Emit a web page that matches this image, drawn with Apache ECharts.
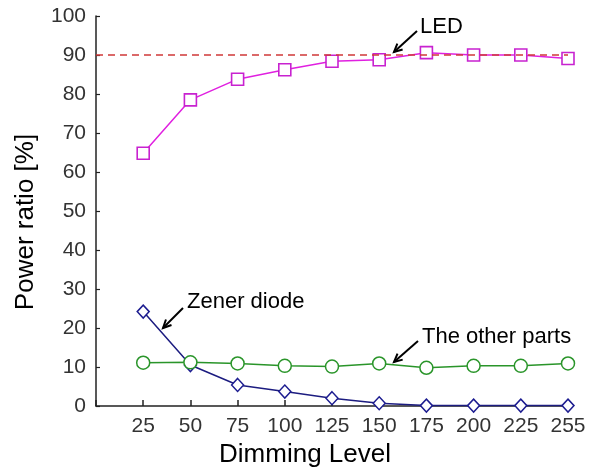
<!DOCTYPE html>
<html>
<head>
<meta charset="utf-8">
<script src="https://cdn.jsdelivr.net/npm/echarts@6/dist/echarts.min.js"></script>
<style>html,body{margin:0;padding:0;background:#fff}#c{width:596px;height:468px}</style>
</head>
<body>
<div id="c"></div>
<script>
const categories = ['', '25', '50', '75', '100', '125', '150', '175', '200', '225', '255'];
const ledValues = [null, 64.8, 78.5, 83.8, 86.2, 88.4, 88.8, 90.6, 90.0, 90.0, 89.1];
const zenerValues = [null, 24.2, 10.5, 5.4, 3.7, 2.0, 0.7, 0.1, 0.1, 0.1, 0.1];
const otherValues = [null, 11.1, 11.2, 10.9, 10.3, 10.1, 10.9, 9.8, 10.3, 10.3, 10.9];
const targetLine = 90;

const font = 'Liberation Sans, Arial, sans-serif';
const chart = echarts.init(document.getElementById('c'), null, {renderer: 'canvas'});

function arrow(x1, y1, x2, y2) {
  const ang = Math.atan2(y2 - y1, x2 - x1);
  const L = 9, a = 0.45;
  const p1 = [x2 - L * Math.cos(ang - a), y2 - L * Math.sin(ang - a)];
  const p2 = [x2 - L * Math.cos(ang + a), y2 - L * Math.sin(ang + a)];
  return [
    {type: 'line', shape: {x1, y1, x2, y2}, style: {stroke: '#000', lineWidth: 2}},
    {type: 'polyline', shape: {points: [p1, [x2, y2], p2]}, style: {stroke: '#000', lineWidth: 2, fill: null}}
  ];
}
function label(text, x, y) {
  return {type: 'text', x, y, style: {text, font: '22px ' + font, fill: '#000', textVerticalAlign: 'middle'}};
}

chart.setOption({
  animation: false,
  backgroundColor: '#fff',
  grid: {left: 96, right: 28, top: 16, bottom: 62, containLabel: false, outerBoundsMode: 'none'},
  xAxis: {
    type: 'category',
    data: categories,
    boundaryGap: false,
    name: 'Dimming Level',
    nameLocation: 'middle',
    nameGap: 31,
    nameTextStyle: {fontSize: 26, color: '#000', fontFamily: font, padding: [0, 54, 0, 0]},
    axisLine: {lineStyle: {color: '#222', width: 1.5}},
    axisTick: {inside: true, length: 6, lineStyle: {color: '#222', width: 1.5}},
    axisLabel: {fontSize: 21, color: '#333', fontFamily: font, margin: 10, interval: 0},
    splitLine: {show: false}
  },
  yAxis: {
    type: 'value',
    min: 0, max: 100, interval: 10,
    name: 'Power ratio [%]',
    nameLocation: 'middle',
    nameGap: 57,
    nameTextStyle: {fontSize: 26, color: '#000', fontFamily: font, padding: [0, 22, 0, 0]},
    axisLine: {show: true, lineStyle: {color: '#222', width: 1.5}},
    axisTick: {show: true, inside: true, length: 4, lineStyle: {color: '#222', width: 1.2}},
    axisLabel: {fontSize: 21, color: '#333', fontFamily: font, margin: 10},
    splitLine: {show: false}
  },
  series: [
    {
      name: 'LED', type: 'line', data: ledValues,
      symbol: 'rect', symbolSize: 12,
      lineStyle: {color: '#e020e0', width: 1.5},
      itemStyle: {color: '#fff', borderColor: '#c822d0', borderWidth: 1.6},
      markLine: {
        silent: true, symbol: 'none', label: {show: false},
        lineStyle: {color: '#d03838', type: [7, 5], width: 1.5},
        data: [{yAxis: targetLine}]
      },
      z: 3
    },
    {
      name: 'Zener diode', type: 'line', data: zenerValues,
      symbol: 'diamond', symbolSize: [12, 13],
      lineStyle: {color: '#1c1c80', width: 1.5},
      itemStyle: {color: '#fff', borderColor: '#1c1c90', borderWidth: 1.5},
      z: 2
    },
    {
      name: 'The other parts', type: 'line', data: otherValues,
      symbol: 'circle', symbolSize: 13,
      lineStyle: {color: '#2a952a', width: 1.5},
      itemStyle: {color: '#fff', borderColor: '#2a952a', borderWidth: 1.5},
      z: 2
    }
  ],
  graphic: [
    ...arrow(417, 31, 394, 52),
    label('LED', 420, 27),
    ...arrow(183, 308, 163, 328),
    label('Zener diode', 187, 302),
    ...arrow(418, 341, 394, 362),
    label('The other parts', 422, 337)
  ]
});
</script>
</body>
</html>
